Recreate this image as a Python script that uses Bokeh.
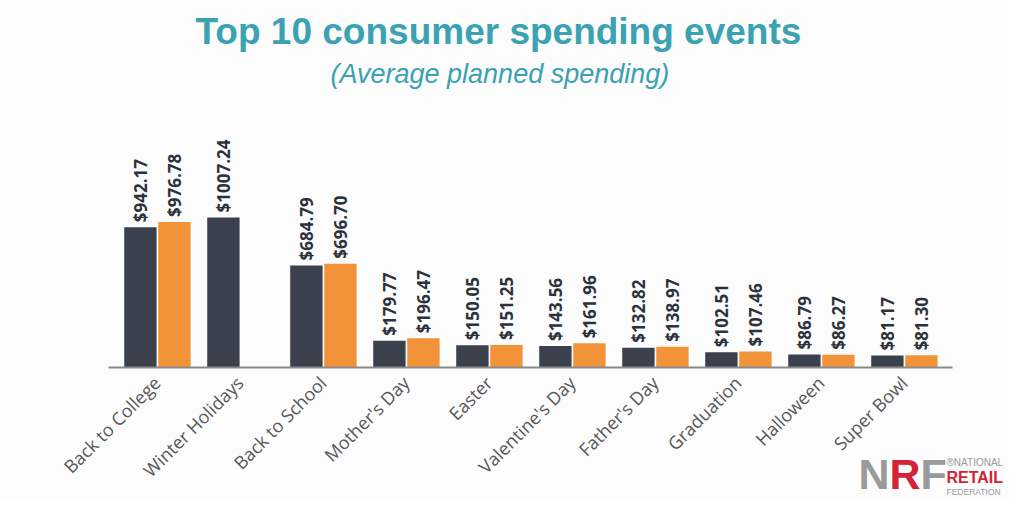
import math
from bokeh.plotting import figure
from bokeh.models import ColumnDataSource, FactorRange, Range1d, Title, Label
from bokeh.transform import dodge
from bokeh.core.properties import value
from bokeh.embed import file_html
from bokeh.resources import INLINE

# ---- data ----
categories = ["Back to College", "Winter Holidays", "Back to School", "Mother's Day",
              "Easter", "Valentine's Day", "Father's Day", "Graduation", "Halloween", "Super Bowl"]
series_dark = [942.17, 1007.24, 684.79, 179.77, 150.05, 143.56, 132.82, 102.51, 86.79, 81.17]
series_orange = [976.78, None, 696.70, 196.47, 151.25, 161.96, 138.97, 107.46, 86.27, 81.30]

DARK = "#3b414c"
ORANGE = "#f39339"
TEAL = "#3aa2b2"
BG = "#fcfcfc"
GREY = "#9a9a9a"
RED = "#d42334"

def build(cats, vals):
    c, v, lab = [], [], []
    for cat, val in zip(cats, vals):
        if val is None:
            continue
        c.append(cat)
        v.append(val)
        lab.append("${:.2f}".format(val))
    return ColumnDataSource(dict(cat=c, val=v, label=lab))

src_dark = build(categories, series_dark)
src_orange = build(categories, series_orange)

W, H = 1008, 500
p = figure(width=W, height=H, output_backend="svg", toolbar_location=None,
           x_range=FactorRange(*categories, range_padding=0.1446),
           y_range=Range1d(-893, 1846), title=None,
           min_border_left=55, min_border_right=3, min_border_top=92, min_border_bottom=0)
p.background_fill_color = BG
p.border_fill_color = BG
p.outline_line_color = None
p.xgrid.visible = False
p.ygrid.visible = False
p.yaxis.visible = False

p.vbar(x=dodge("cat", -0.2, range=p.x_range), top="val", width=0.39, source=src_dark,
       fill_color=DARK, line_color=None)
p.vbar(x=dodge("cat", 0.21, range=p.x_range), top="val", width=0.39, source=src_orange,
       fill_color=ORANGE, line_color=None)

for src, off in ((src_dark, -0.2), (src_orange, 0.21)):
    p.text(x=dodge("cat", off, range=p.x_range), y="val", text="label", source=src,
           angle=math.pi / 2, text_align="left", text_baseline="middle",
           y_offset=-5, text_font=value("Open Sans"), text_font_style="bold",
           text_font_size="17px", text_color="#2c323c")

ax = p.xaxis[0]
ax.fixed_location = 0
ax.bounds = (-0.09, 10.09)
ax.axis_line_color = "#8a8a8a"
ax.axis_line_width = 2
ax.major_tick_line_color = None
ax.minor_tick_line_color = None
ax.major_label_orientation = math.pi / 4
ax.major_label_text_font = "Open Sans"
ax.major_label_text_font_size = "18px"
ax.major_label_text_color = "#585858"
ax.major_label_standoff = 6

sub = Title(text="(Average planned spending)", align="left", text_font="Liberation Sans",
            text_font_style="italic", text_font_size="27px", text_color=TEAL, offset=275,
            standoff=7)
main = Title(text="Top 10 consumer spending events", align="left", text_font="Liberation Sans",
             text_font_style="bold", text_font_size="37px", text_color=TEAL, offset=140,
             standoff=4)
p.add_layout(sub, "above")
p.add_layout(main, "above")

# NRF logo
for t, x, col in (("N", 858, GREY), ("R", 889, RED), ("F", 920, GREY)):
    p.add_layout(Label(x=x, y=473, x_units="canvas", y_units="canvas", text=t,
                       text_font="Liberation Sans", text_font_style="bold",
                       text_font_size="43px", text_color=col, text_baseline="middle",
                       level="overlay"))
for t, y, size, style, col in (("®NATIONAL", 462, "10px", "normal", GREY),
                               ("RETAIL", 477, "16px", "bold", RED),
                               ("FEDERATION", 491, "8.5px", "normal", GREY)):
    p.add_layout(Label(x=946, y=y, x_units="canvas", y_units="canvas", text=t,
                       text_font="Liberation Sans", text_font_style=style,
                       text_font_size=size, text_color=col, text_baseline="middle",
                       level="overlay"))

open("out.html", "w").write(file_html(p, INLINE))
